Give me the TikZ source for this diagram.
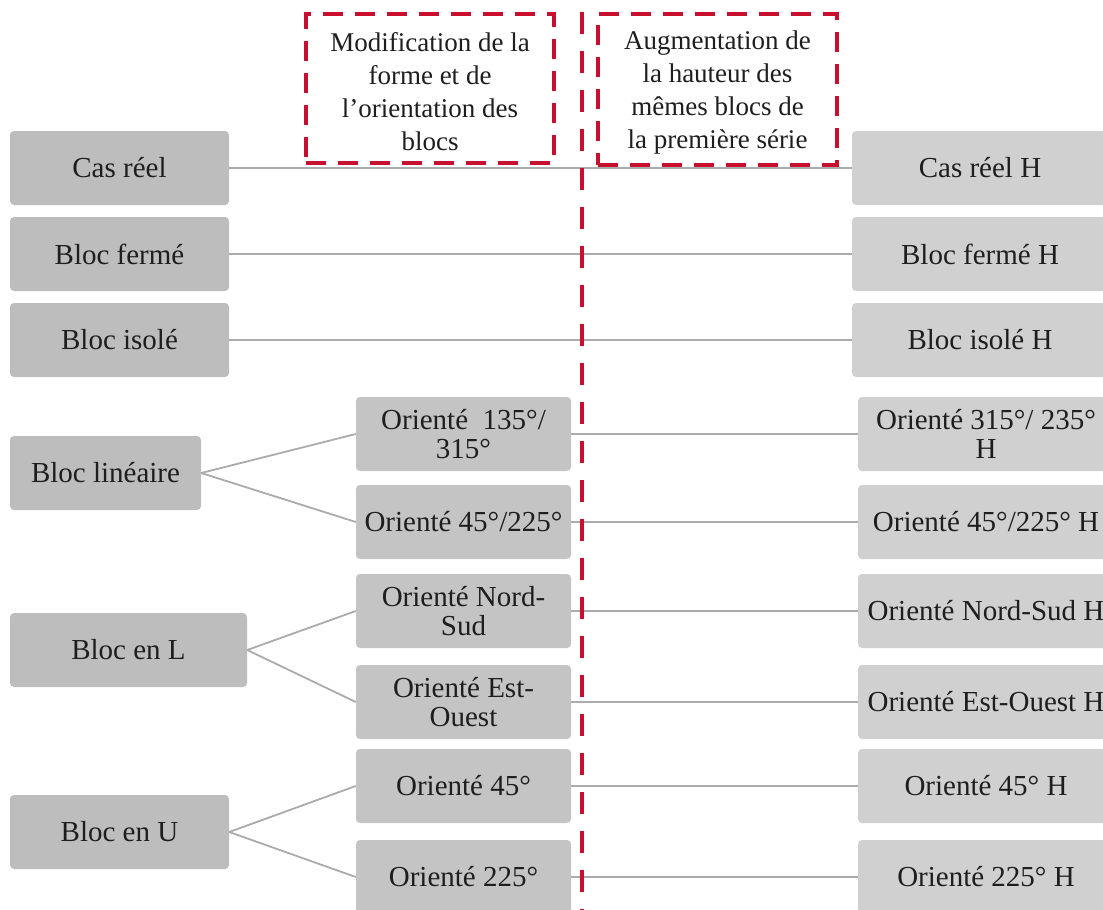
\documentclass[tikz,border=0pt]{standalone}
\usepackage{fontspec}
\setmainfont{Liberation Serif}
\definecolor{leftgray}{HTML}{BDBDBD}
\definecolor{midgray}{HTML}{C4C4C4}
\definecolor{rightgray}{HTML}{D0D0D0}
\definecolor{linkgray}{HTML}{ABABAB}
\definecolor{dashred}{HTML}{C8102E}
\definecolor{txt}{HTML}{1E1E1E}

\begin{document}
\begin{tikzpicture}[x=1pt,y=-1pt,
  box/.style={rounded corners=4pt, minimum height=74pt, inner sep=1pt,
    align=center, text=txt, font=\fontsize{29}{29.5}\selectfont},
  lbox/.style={box, fill=leftgray},
  mbox/.style={box, fill=midgray, minimum width=215pt},
  rbox/.style={box, fill=rightgray, minimum width=256pt},
  link/.style={draw=linkgray, line width=1.8pt},
  redline/.style={draw=dashred, line width=4.5pt, dash pattern=on 22pt off 17pt},
  notebox/.style={draw=dashred, line width=4.5pt, dash pattern=on 20pt off 12pt,
    align=center, inner sep=0pt, text=txt, text height=124pt,
    font=\fontsize{27}{33}\selectfont}
]
\useasboundingbox (0,0) rectangle (1103,910);
\clip (0,0) rectangle (1103,910);

% first series: base cases
\node[lbox, minimum width=219pt] (cas)  at (119.5,168) {Cas réel};
\node[lbox, minimum width=219pt] (fer)  at (119.5,254) {Bloc fermé};
\node[lbox, minimum width=219pt] (iso)  at (119.5,340) {Bloc isolé};
\node[lbox, minimum width=191pt] (lin)  at (105.5,473) {Bloc linéaire};
\node[lbox, minimum width=237pt] (blL)  at (128.5,650) {Bloc en L};
\node[lbox, minimum width=219pt] (blU)  at (119.5,832) {Bloc en U};

% orientation variants
\node[mbox] (o135) at (463.5,434) {Orienté\ \ 135°/\\315°};
\node[mbox] (o45a) at (463.5,522) {Orienté 45°/225°};
\node[mbox] (ons)  at (463.5,611) {Orienté Nord-\\Sud};
\node[mbox] (oeo)  at (463.5,702) {Orienté Est-\\Ouest};
\node[mbox] (o45)  at (463.5,786) {Orienté 45°};
\node[mbox] (o225) at (463.5,877) {Orienté 225°};

% second series: raised blocks
\node[rbox] (casH)  at (980,168) {Cas réel H};
\node[rbox] (ferH)  at (980,254) {Bloc fermé H};
\node[rbox] (isoH)  at (980,340) {Bloc isolé H};
\node[rbox] (o315H) at (986,434) {Orienté 315°/ 235°\\H};
\node[rbox] (o45aH) at (986,522) {Orienté 45°/225° H};
\node[rbox] (onsH)  at (986,611) {Orienté Nord-Sud H};
\node[rbox] (oeoH)  at (986,702) {Orienté Est-Ouest H};
\node[rbox] (o45H)  at (986,786) {Orienté 45° H};
\node[rbox] (o225H) at (986,877) {Orienté 225° H};

% connectors
\draw[link] (cas.east) -- (casH.west);
\draw[link] (fer.east) -- (ferH.west);
\draw[link] (iso.east) -- (isoH.west);
\draw[link] (lin.east) -- (o135.west);
\draw[link] (lin.east) -- (o45a.west);
\draw[link] (blL.east) -- (ons.west);
\draw[link] (blL.east) -- (oeo.west);
\draw[link] (blU.east) -- (o45.west);
\draw[link] (blU.east) -- (o225.west);
\draw[link] (o135.east) -- (o315H.west);
\draw[link] (o45a.east) -- (o45aH.west);
\draw[link] (ons.east) -- (onsH.west);
\draw[link] (oeo.east) -- (oeoH.west);
\draw[link] (o45.east) -- (o45H.west);
\draw[link] (o225.east) -- (o225H.west);

% series headers and separator
\node[notebox, minimum width=248pt, minimum height=149pt] (note1) at (430,88.5)
  {Modification de la\\forme et de\\l’orientation des\\blocs};
\node[notebox, minimum width=239pt, minimum height=151pt] (note2) at (717.5,89.5)
  {Augmentation de\\la hauteur des\\mêmes blocs de\\la première série};
\coordinate (septop) at (582,12);
\coordinate (sepbot) at (582,915);
\draw[redline] (septop) -- (sepbot);
\end{tikzpicture}
\end{document}
